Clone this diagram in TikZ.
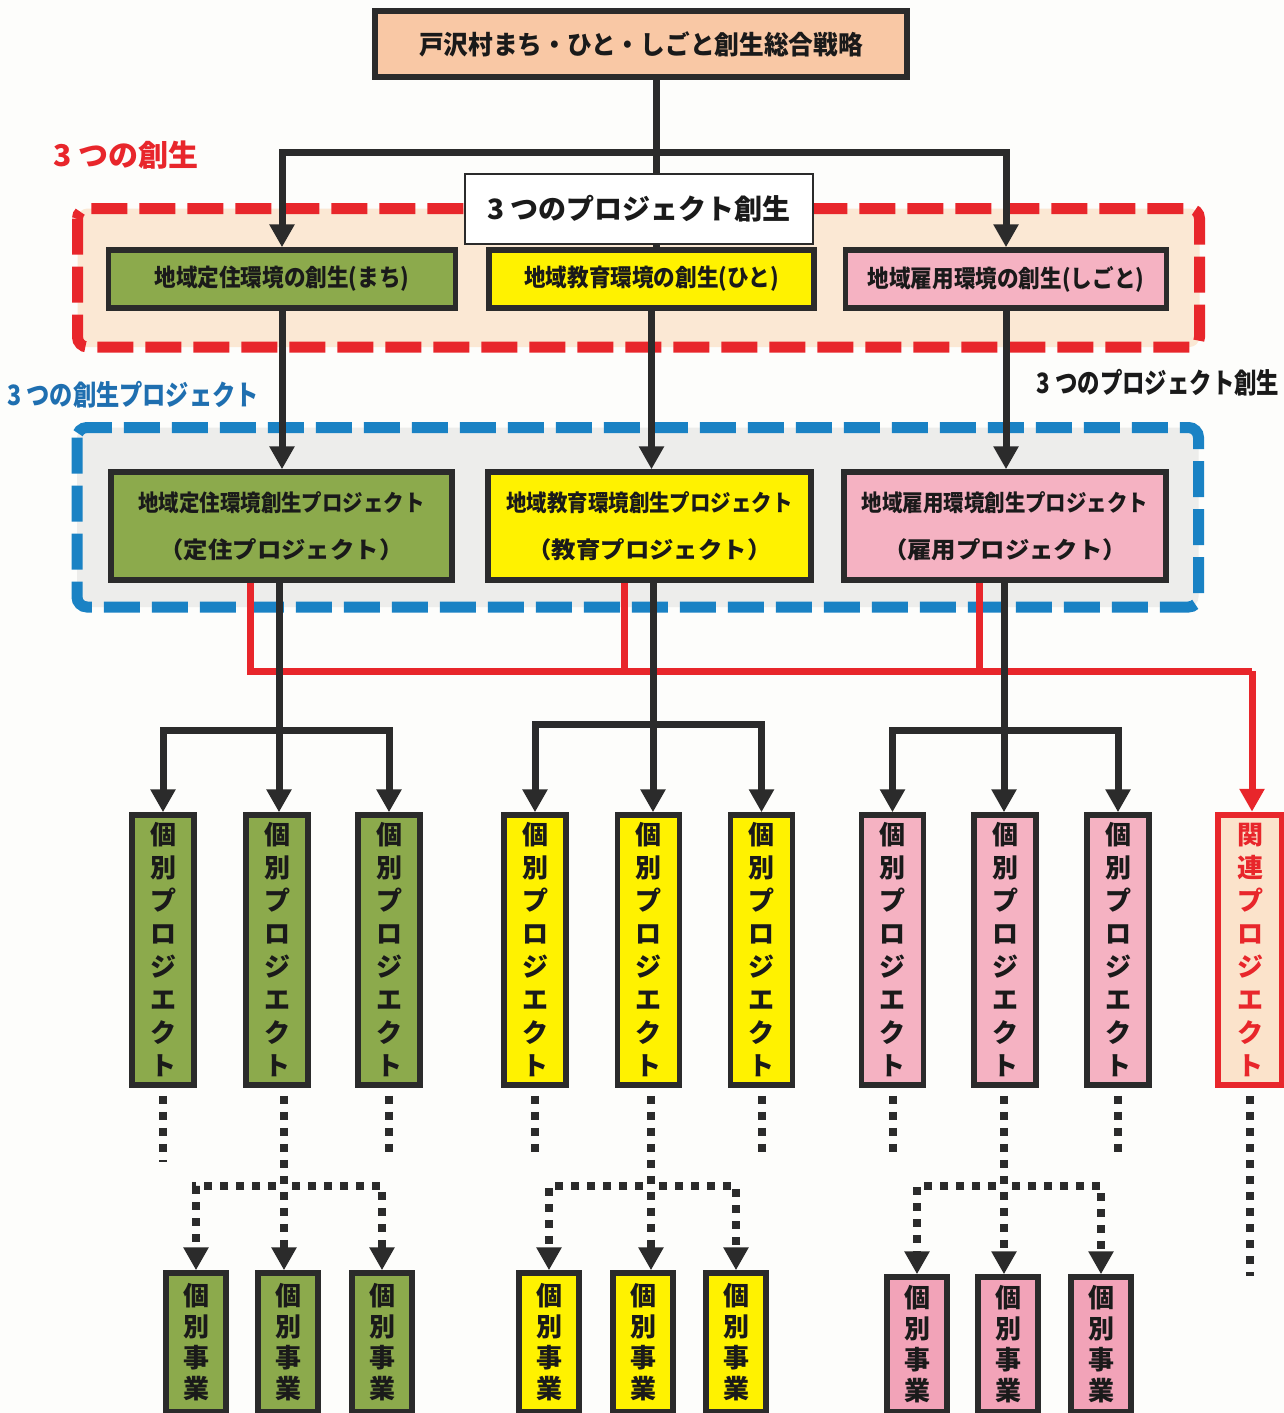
\documentclass[tikz,border=0pt]{standalone}
\usepackage{fontspec}
\usepackage{graphicx}
\setmainfont{Noto Sans CJK JP}
\usetikzlibrary{arrows.meta}

\definecolor{paper}{HTML}{FDFDFB}
\definecolor{edge}{HTML}{2B2B2B}
\definecolor{ink}{HTML}{1A1A1A}
\definecolor{peach}{HTML}{F9C8A5}
\definecolor{peachlt}{HTML}{FBE8D4}
\definecolor{relfill}{HTML}{FBE3CB}
\definecolor{grayfill}{HTML}{EDEDEB}
\definecolor{grn}{HTML}{8CAA4C}
\definecolor{yel}{HTML}{FFF200}
\definecolor{pnk}{HTML}{F5B2C2}
\definecolor{pnkdk}{HTML}{F2A3B8}
\definecolor{rd}{HTML}{E8262B}
\definecolor{bl}{HTML}{1A82C4}
\definecolor{bltext}{HTML}{1F6FB0}

% horizontal squeeze of a label
\newcommand\sx[2]{\scalebox{#1}[1]{#2}}

\begin{document}
\begin{tikzpicture}[x=0.5pt,y=-0.5pt,
  box/.style={draw=edge, line width=2.75pt, inner sep=0pt, text=ink},
  headbox/.style={box, minimum height=29pt, font=\bfseries\fontsize{12}{12}\selectfont},
  projbox/.style={box, minimum height=54pt, align=center, font=\bfseries\fontsize{11.5}{23.5}\selectfont},
  vbox/.style={box, minimum width=31pt, minimum height=135pt, align=center,
    font=\bfseries\fontsize{13}{16.5}\selectfont},
  bizbox/.style={box, minimum width=30pt, align=center,
    font=\bfseries\fontsize{13}{15.5}\selectfont},
  frame/.style={line width=5.5pt, dash pattern=on 18pt off 6pt, rounded corners=5pt},
  conn/.style={draw=edge, line width=3.5pt},
  tip/.style={-{Triangle[width=12pt,length=11.5pt]}},
  arr/.style={conn, tip},
  dots/.style={draw=edge, line width=4pt, dash pattern=on 4pt off 4pt, dash phase=4pt},
  dotarr/.style={dots, tip},
  redln/.style={draw=rd, line width=3.5pt},
  redarr/.style={redln, tip},
  lbl/.style={font=\bfseries\fontsize{14}{14}\selectfont, inner sep=0pt}
]
\useasboundingbox[fill=paper] (0,0) rectangle (1284,1413);

% dashed group frames
\draw[frame, draw=rd, fill=peachlt] (77.5,208.5) rectangle (1199.5,347);
\draw[frame, draw=bl, fill=grayfill] (77,427.5) rectangle (1198.5,607);

% group labels
\node[lbl, text=rd, font=\bfseries\fontsize{15}{15}\selectfont] (lbA) at (126,155) {3 つの創生};
\node[lbl, text=bltext] (lbB) at (133,395) {\sx{0.83}{3 つの創生プロジェクト}};
\node[lbl, text=ink] (lbC) at (1158,383) {\sx{0.8}{3 つのプロジェクト創生}};

% strategy
\node[box, fill=peach, minimum width=266pt, minimum height=33pt,
  font=\bfseries\fontsize{13}{13}\selectfont] (top) at (641,44)
  {\sx{0.95}{戸沢村まち・ひと・しごと創生総合戦略}};

% three creations
\node[headbox, fill=grn, minimum width=173.5pt] (g1) at (282,279) {\sx{0.9}{地域定住環境の創生(まち)}};
\node[headbox, fill=yel, minimum width=162.5pt] (y1) at (651.5,279) {\sx{0.9}{地域教育環境の創生(ひと)}};
\node[headbox, fill=pnk, minimum width=160.5pt] (p1) at (1006,279) {\sx{0.9}{地域雇用環境の創生(しごと)}};

\node[draw=edge, line width=1pt, fill=white, inner sep=0pt, minimum width=174pt,
  minimum height=35pt, text=ink, font=\bfseries\fontsize{14}{14}\selectfont] (mid) at (639,209)
  {3 つのプロジェクト創生};

% three projects
\node[projbox, fill=grn, minimum width=170.5pt] (g2) at (281.5,526)
  {\sx{0.89}{地域定住環境創生プロジェクト}\\\sx{1.06}{（定住プロジェクト）}};
\node[projbox, fill=yel, minimum width=161.5pt] (y2) at (649.5,526)
  {\sx{0.89}{地域教育環境創生プロジェクト}\\\sx{1.06}{（教育プロジェクト）}};
\node[projbox, fill=pnk, minimum width=161pt] (p2) at (1005,526)
  {\sx{0.89}{地域雇用環境創生プロジェクト}\\\sx{1.06}{（雇用プロジェクト）}};

% individual projects
\foreach \n/\x/\c in {vg1/163/grn, vg2/277/grn, vg3/389/grn,
                      vy1/535/yel, vy2/648.5/yel, vy3/761.5/yel,
                      vp1/892.5/pnk, vp2/1005/pnk, vp3/1118/pnk}{
  \node[vbox, fill=\c] (\n) at (\x,950) {個\\別\\プ\\ロ\\ジ\\エ\\ク\\ト};
}
\node[vbox, draw=rd, line width=3.25pt, fill=relfill, text=rd, minimum width=32pt] (rel) at (1250,950)
  {関\\連\\プ\\ロ\\ジ\\エ\\ク\\ト};

% individual businesses
\foreach \n/\x/\c/\y/\h in {bg1/196/grn/1342.5/69.5, bg2/288/grn/1342.5/69.5, bg3/382/grn/1342.5/69.5,
                           by1/549/yel/1342.5/69.5, by2/643/yel/1342.5/69.5, by3/736/yel/1342.5/69.5,
                           bp1/917/pnkdk/1344.5/67.5, bp2/1008/pnkdk/1344.5/67.5, bp3/1101/pnkdk/1344.5/67.5}{
  \node[bizbox, fill=\c, minimum height=\h pt] (\n) at (\x,\y) {個\\別\\事\\業};
}

% strategy to creations
\coordinate (jTop) at (656,152);
\draw[conn] (top.south -| jTop) -- (jTop);
\draw[arr] (jTop) -| (g1.north);
\draw[arr] (jTop) -| (p1.north);
\draw[conn] (jTop) -- (mid.north -| jTop);
\draw[conn] (mid.south -| jTop) -- (y1.north -| jTop);

% creations to projects
\draw[arr] (g1.south) -- (g1.south |- g2.north);
\draw[arr] (y1.south) -- (y1.south |- y2.north);
\draw[arr] (p1.south) -- (p1.south |- p2.north);

% related-project line
\coordinate (rG) at (250,671);
\coordinate (rY) at (624,671);
\coordinate (rP) at (979,671);
\coordinate (rE) at (1252,671);
\draw[redln] (g2.south -| rG) -- (rG) -- (rE);
\draw[redln] (y2.south -| rY) -- (rY);
\draw[redln] (p2.south -| rP) -- (rP);
\draw[redarr] (rE) -- (rE |- rel.north);

% projects to individual projects
\coordinate (bG) at (279,730);
\coordinate (bY) at (653,724);
\coordinate (bP) at (1004,730);
\draw[conn] (g2.south -| bG) -- (bG);
\draw[arr] (bG) -- (bG |- vg2.north);
\draw[arr] (bG) -| (vg1.north);
\draw[arr] (bG) -| (vg3.north);
\draw[conn] (y2.south -| bY) -- (bY);
\draw[arr] (bY) -- (bY |- vy2.north);
\draw[arr] (bY) -| (vy1.north);
\draw[arr] (bY) -| (vy3.north);
\draw[conn] (p2.south -| bP) -- (bP);
\draw[arr] (bP) -- (bP |- vp2.north);
\draw[arr] (bP) -| (vp1.north);
\draw[arr] (bP) -| (vp3.north);

% dotted continuations
\path (vg1.south) ++(0,74) coordinate (sg1);
\path (vg3.south) ++(0,68) coordinate (sg3);
\path (vy1.south) ++(0,68) coordinate (sy1);
\path (vy3.south) ++(0,70) coordinate (sy3);
\path (vp1.south) ++(0,66) coordinate (sp1);
\path (vp3.south) ++(0,68) coordinate (sp3);
\path (rel.south) ++(0,188) coordinate (sr);
\draw[dots] (vg1.south) -- (sg1);
\draw[dots] (vg3.south) -- (sg3);
\draw[dots] (vy1.south) -- (sy1);
\draw[dots] (vy3.south) -- (sy3);
\draw[dots] (vp1.south) -- (sp1);
\draw[dots] (vp3.south) -- (sp3);
\draw[dots] (rel.south) -- (sr);

% individual projects to businesses
\coordinate (dG) at (284,1186);
\coordinate (dY) at (651,1186);
\coordinate (dP) at (1004,1186);
\draw[dotarr] (vg2.south -| dG) -- (dG |- bg2.north);
\draw[dotarr] (dG) -| (bg1.north);
\draw[dotarr] (dG) -| (bg3.north);
\draw[dotarr] (vy2.south -| dY) -- (dY |- by2.north);
\draw[dotarr] (dY) -| (by1.north);
\draw[dotarr] (dY) -| (by3.north);
\draw[dotarr] (vp2.south -| dP) -- (dP |- bp2.north);
\draw[dotarr] (dP) -| (bp1.north);
\draw[dotarr] (dP) -| (bp3.north);
\end{tikzpicture}
\end{document}
